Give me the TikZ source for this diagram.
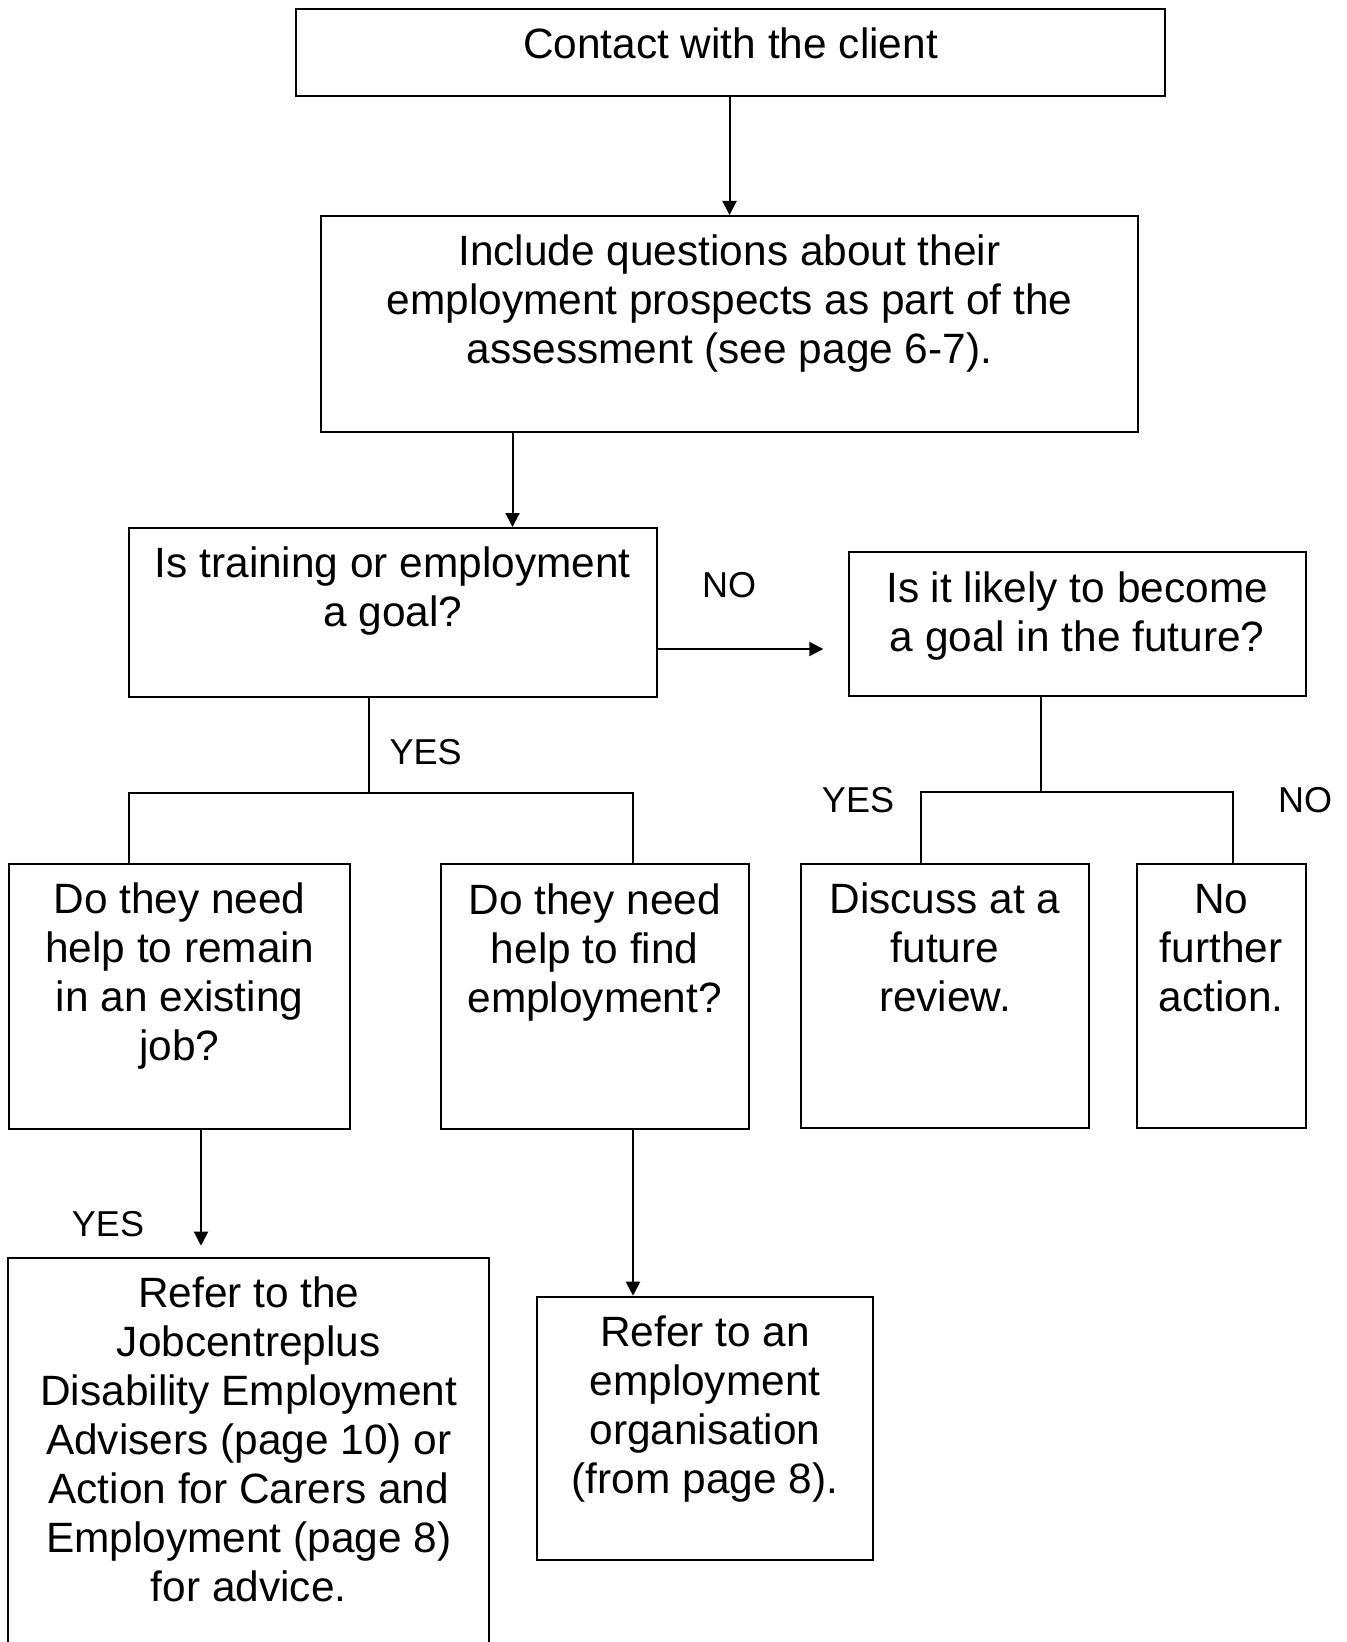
\documentclass[tikz,border=0pt]{standalone}
\usepackage{fontspec}
\setmainfont{Liberation Sans}
\usetikzlibrary{arrows.meta,fit,calc}
\begin{document}
\begin{tikzpicture}[x=0.5pt,y=-0.5pt,
  box/.style={draw, line width=1pt, inner sep=0pt, rectangle},
  txt/.style={anchor=north, align=center, inner sep=0pt, font=\fontsize{21.2}{24.5}\selectfont},
  lbl/.style={anchor=base, inner sep=0pt, font=\fontsize{18}{21}\selectfont},
  conn/.style={line width=1pt},
  arr/.style={line width=1pt, -{Triangle[length=7pt,width=7pt]}}]
\clip (0,0) rectangle (1346,1642);
\fill[white] (0,0) rectangle (1346,1642);

% boxes
\node[box, fit={(296,9) (1165,96.5)}] (b1) {};
\node[box, fit={(321.3,216) (1137.6,432.3)}] (b2) {};
\node[box, fit={(128.6,528) (657,697)}] (b3) {};
\node[box, fit={(848.7,552.3) (1305.5,695.7)}] (b4) {};
\node[box, fit={(9,864) (350,1129)}] (b5) {};
\node[box, fit={(440.7,864.3) (748.7,1128.5)}] (b6) {};
\node[box, fit={(800.7,864) (1089.3,1127.7)}] (b7) {};
\node[box, fit={(1136.7,864) (1305.7,1127.7)}] (b8) {};
\node[box, fit={(8.3,1257.7) (489.3,1700)}] (b9) {};
\node[box, fit={(536.7,1296.7) (873.3,1560)}] (b10) {};

% texts
\node[txt] (t1) at ($(b1.north)+(0,16.2)$) {\strut Contact with the client};
\node[txt] (t2) at ($(b2.north)+(0,16.2)$) {\strut Include questions about their\\employment prospects as part of the\\assessment (see page 6-7).};
\node[txt] (t3) at ($(b3.north)+(0,16.2)$) {\strut Is training or employment\\a goal?};
\node[txt] (t4) at ($(b4.north)+(0,16.2)$) {\strut Is it likely to become\\a goal in the future?};
\node[txt] (t5) at ($(b5.north)+(0,16.2)$) {\strut Do they need\\help to remain\\in an existing\\job?};
\node[txt] (t6) at ($(b6.north)+(0,16.2)$) {\strut Do they need\\help to find\\employment?};
\node[txt] (t7) at ($(b7.north)+(0,16.2)$) {\strut Discuss at a\\future\\review.};
\node[txt] (t8) at ($(b8.north)+(0,16.2)$) {\strut No\\further\\action.};
\node[txt] (t9) at ($(b9.north)+(0,16.2)$) {\strut Refer to the\\Jobcentreplus\\Disability Employment\\Advisers (page 10) or\\Action for Carers and\\Employment (page 8)\\for advice.};
\node[txt] (t10) at ($(b10.north)+(0,16.2)$) {\strut Refer to an\\employment\\organisation\\(from page 8).};

% labels
\node[lbl] (lno1) at (729,597.7) {NO};
\node[lbl] (lyes1) at (425.7,764.3) {YES};
\node[lbl] (lyes2) at (858,812.7) {YES};
\node[lbl] (lno2) at (1305,812.7) {NO};
\node[lbl] (lyes3) at (108,1236.7) {YES};

% connectors
\coordinate (k1) at (729.5,0);
\draw[arr] (b1.south -| k1) -- (b2.north -| k1);
\coordinate (k2) at (512.5,0);
\draw[arr] (b2.south -| k2) -- (b3.north -| k2);
\coordinate (k3) at (0,649);
\draw[arr, shorten >=12.2pt] (b3.east |- k3) -- (b4.west |- k3);

\coordinate (j3) at (369,792.5);
\coordinate (j3l) at (128.6,792.5);
\coordinate (j3r) at (633,792.5);
\draw[conn] (b3.south -| j3) -- (j3);
\draw[conn] (b5.north -| j3l) -- (j3l) -- (j3r) -- (b6.north -| j3r);

\coordinate (j4) at (1041,791.7);
\coordinate (j4l) at (921,791.7);
\coordinate (j4r) at (1232.7,791.7);
\draw[conn] (b4.south -| j4) -- (j4);
\draw[conn] (b7.north -| j4l) -- (j4l) -- (j4r) -- (b8.north -| j4r);

\coordinate (k5) at (201,0);
\draw[arr, shorten >=5.5pt] (b5.south -| k5) -- (b9.north -| k5);
\coordinate (k6) at (633,0);
\draw[arr] (b6.south -| k6) -- (b10.north -| k6);
\end{tikzpicture}
\end{document}
